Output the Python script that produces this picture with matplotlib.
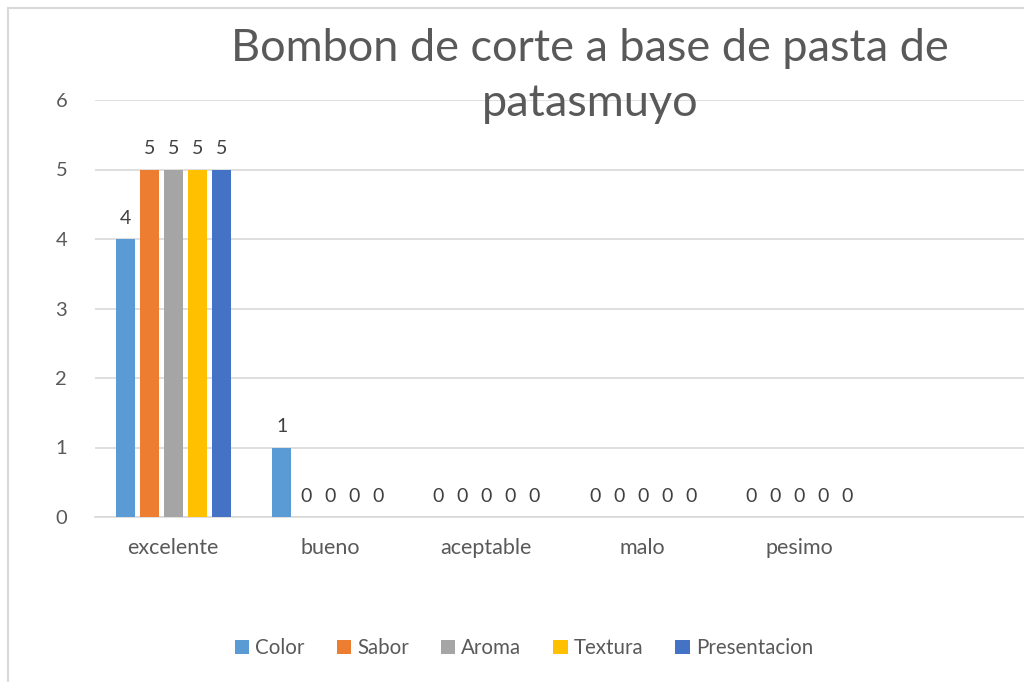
import matplotlib.pyplot as plt
from matplotlib.patches import Rectangle, Patch
import numpy as np

# Datos
categorias = ['excelente', 'bueno', 'aceptable', 'malo', 'pesimo']
series = ['Color', 'Sabor', 'Aroma', 'Textura', 'Presentacion']
color_vals = [4, 1, 0, 0, 0]
sabor_vals = [5, 0, 0, 0, 0]
aroma_vals = [5, 0, 0, 0, 0]
textura_vals = [5, 0, 0, 0, 0]
presentacion_vals = [5, 0, 0, 0, 0]
colores = ['#5B9BD5', '#ED7D31', '#A5A5A5', '#FFC000', '#4472C4']

valores = [color_vals, sabor_vals, aroma_vals, textura_vals, presentacion_vals]

plt.rcParams['font.family'] = ['Lato', 'DejaVu Sans']

W, H = 1024, 682
fig = plt.figure(figsize=(W / 100, H / 100), dpi=100)

# borde del grafico (recortado a la derecha y abajo)
fig.patches.append(Rectangle((8 / W, -0.1), 1.2, 1 - 8 / H + 0.1,
                             transform=fig.transFigure, fill=False,
                             edgecolor='#d9d9d9', lw=1.5))

ax = fig.add_axes([95 / W, 165 / H, 939 / W, 417 / H])

x = np.arange(len(categorias))
paso = 24 / 156.5
ancho = 19 / 156.5
for i, (nombre, vals, c) in enumerate(zip(series, valores, colores)):
    pos = x + (i - 2) * paso
    ax.bar(pos, vals, width=ancho, color=c, label=nombre, zorder=3)
    for xb, v in zip(pos, vals):
        ax.annotate(str(v), (xb, v), xytext=(0, 9), textcoords='offset points',
                    ha='center', va='bottom', fontsize=14, color='#404040')

ax.set_xlim(-0.5, 5.5)
ax.set_ylim(0, 6)
ax.set_yticks(range(0, 7))
ax.set_xticks(x)
ax.set_xticklabels(categorias)
ax.grid(axis='y', color='#d9d9d9', lw=1.2, zorder=0)
for s in ['top', 'right', 'left']:
    ax.spines[s].set_visible(False)
ax.spines['bottom'].set_color('#d9d9d9')
ax.spines['bottom'].set_linewidth(1.2)
ax.tick_params(axis='both', length=0, labelsize=14.5, colors='#595959')
ax.tick_params(axis='x', labelsize=15.5, pad=15)
ax.tick_params(axis='y', pad=20)

fig.text(590 / W, 1 - 76 / H, 'Bombon de corte a base de pasta de\npatasmuyo',
         ha='center', va='center', fontsize=32.5, color='#595959', linespacing=1.42)

handles = [Patch(facecolor=c, label=s) for s, c in zip(series, colores)]
fig.legend(handles=handles, loc='center', bbox_to_anchor=(524 / W, 1 - 648 / H),
           ncol=5, frameon=False, fontsize=14.8, labelcolor='#595959',
           handlelength=0.7, handleheight=0.7, handletextpad=0.3,
           columnspacing=1.55)

fig.savefig('out.png', dpi=100)
